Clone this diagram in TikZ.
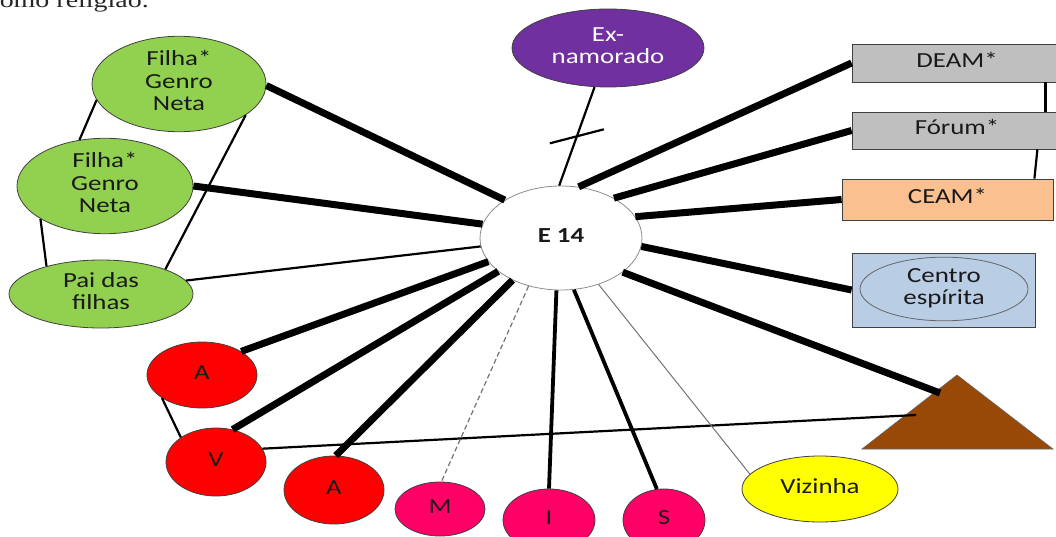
\documentclass[tikz,border=0pt]{standalone}
\usepackage{fontspec}
\usepackage{graphicx}
\setmainfont{Carlito}
\newfontfamily\runningfont{Liberation Serif}
\usetikzlibrary{shapes.geometric,calc}

% horizontally widened, centred label lines
\newcommand\wide[1]{\scalebox{1.25}[1]{\begin{tabular}{@{}c@{}}#1\end{tabular}}}

\definecolor{leaf}{HTML}{92D050}
\definecolor{plum}{HTML}{7030A0}
\definecolor{stone}{HTML}{BFBFBF}
\definecolor{peach}{HTML}{FAC090}
\definecolor{sky}{HTML}{B9CDE5}
\definecolor{crimson}{HTML}{FF0000}
\definecolor{rose}{HTML}{FF0066}
\definecolor{lemon}{HTML}{FFFF00}
\definecolor{earth}{HTML}{984807}
\definecolor{outline}{HTML}{404040}
\definecolor{inktext}{HTML}{1A1A1A}

\tikzset{
  lbl/.style={font=\fontsize{21.5}{22.5}\selectfont, text=inktext, align=center},
  ell/.style={ellipse, lbl, draw=outline, line width=0.8pt, inner sep=0pt},
  boxnode/.style={rectangle, lbl, draw=outline, line width=0.8pt, inner sep=0pt},
  strong/.style={line width=7pt},
  medium/.style={line width=3.8pt},
  weak/.style={line width=2.2pt},
  faint/.style={line width=1pt, draw=black!55},
  broken/.style={line width=1.2pt, draw=black!55, dash pattern=on 5pt off 3pt},
}

\begin{document}
\begin{tikzpicture}[x=1pt,y=-1pt]
\useasboundingbox (0,0) rectangle (1056,537);
\clip (0,0) rectangle (1056,537);

% running text of the page above the map
\node[anchor=base east, inner sep=0pt, font=\runningfont\fontsize{21.5}{21.5}\selectfont, text=black!85]
  (pagetext) at (149,8) {\scalebox{1.3}[1]{como religião.}};

% central person
\node[ellipse, draw=black!45, line width=0.8pt, fill=white, minimum width=162pt, minimum height=104pt,
      lbl, font=\bfseries\fontsize{21.5}{22.5}\selectfont] (e14) at (561,238) {\wide{E 14}};

% family
\node[ell, fill=leaf, minimum width=174pt, minimum height=82pt] (f1) at (179,84) {\wide{Filha*\\Genro\\Neta}};
\node[ell, fill=leaf, minimum width=176pt, minimum height=80pt] (f2) at (105,186) {\wide{Filha*\\Genro\\Neta}};
\node[ell, fill=leaf, minimum width=184pt, minimum height=68pt] (pai) at (101,294) {\wide{Pai das\\filhas}};
\node[ell, fill=plum, text=white, minimum width=192pt, minimum height=78pt] (ex) at (608,48) {\wide{Ex-\\namorado}};

% institutions
\node[boxnode, fill=stone, minimum width=210pt, minimum height=38pt] (deam) at (957,63) {\wide{DEAM*}};
\node[boxnode, fill=stone, minimum width=210pt, minimum height=37pt] (forum) at (957,130.5) {\wide{Fórum*}};
\node[boxnode, fill=peach, minimum width=211pt, minimum height=41pt] (ceam) at (947.5,199.5) {\wide{CEAM*}};
\node[boxnode, fill=sky, minimum width=183pt, minimum height=74pt] (centro) at (943.5,290) {};
\node[ell, draw=black!60, minimum width=168pt, minimum height=58pt] (espirita) at (944,289) {\wide{Centro\\espírita}};

% work / community
\fill[earth, draw=black!60, line width=0.6pt] (862,449) -- (957,375) -- (1053,449) -- cycle;
\coordinate (triA) at (940,393);
\coordinate (triB) at (916,415);

\node[ell, fill=crimson, minimum width=110pt, minimum height=66pt] (atop) at (202,375) {\wide{A}};
\node[ell, fill=crimson, minimum width=100pt, minimum height=68pt] (v) at (216,462) {\wide{V}};
\node[ell, fill=crimson, minimum width=100pt, minimum height=68pt] (abot) at (334,490) {\wide{A}};
\node[ell, fill=rose, minimum width=90pt, minimum height=54pt] (m) at (440,509) {\wide{M}};
\node[ell, fill=rose, minimum width=92pt, minimum height=62pt] (i) at (549,520) {\wide{I}};
\node[ell, fill=rose, minimum width=82pt, minimum height=62pt] (s) at (664,520) {\wide{S}};
\node[ell, fill=lemon, minimum width=156pt, minimum height=66pt] (viz) at (820,489) {\wide{Vizinha}};

% ties among the others
\draw[weak] (f1.191) -- (f2.119);
\draw[weak] (f2.207) -- (pai.153);
\draw[weak] (f1.-25) -- (pai.21);
\draw[weak] (atop.210) -- (v.145);
\draw[weak] (v.16) -- (triB);
\draw[weak] ($(deam.south east)+(-17,0)$) -- ($(forum.north east)+(-17,0)$);
\draw[weak] ($(forum.south east)+(-25,0)$) -- ($(ceam.north east)+(-19,0)$);

% ties with E 14
\draw[strong] (e14.146) -- (f1.-1);
\draw[strong] (e14.170) -- (f2.east);
\draw[weak] (e14.186) -- (pai.9);
\draw[strong] (e14.198) -- (atop.31);
\draw[strong] (e14.208) -- (v.63);
\draw[strong] (e14.221) -- (abot.87);
\draw[broken] (e14.236) -- (m.87);
\draw[medium] (e14.265) -- (i.north);
\draw[medium] (e14.284) -- (s.103);
\draw[faint] (e14.309) -- (viz.168);
\draw[strong] (e14.-29) -- (triA);
\draw[strong] (e14.-6) -- (centro.west);
\draw[strong] (e14.16) -- (ceam.west);
\draw[strong] (e14.37) -- (forum.west);
\draw[strong] (e14.71) -- (deam.west);

% broken tie with the former boyfriend
\draw[weak] (e14.92) -- coordinate[pos=0.5] (cut) (ex.251);
\draw[weak] ($(cut)+(-27,7)$) -- ($(cut)+(27,-7)$);
\end{tikzpicture}
\end{document}
